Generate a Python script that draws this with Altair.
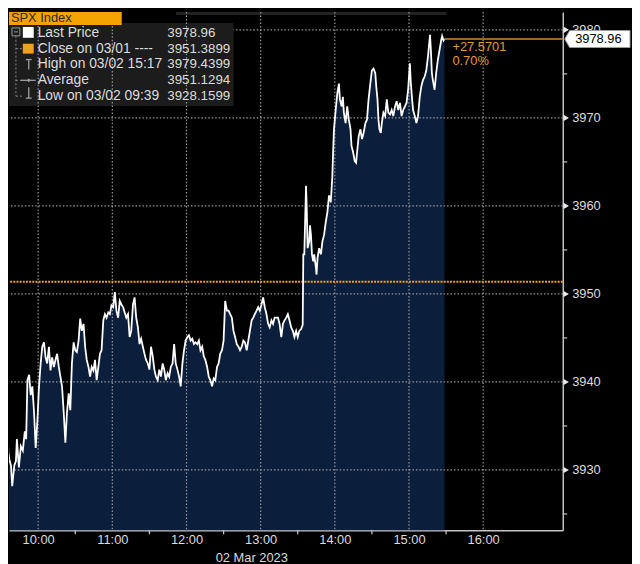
import altair as alt
import pandas as pd

# ---------------- data (minutes after 09:30, index level) ----------------
minutes = [
    0, 1.3, 2.7, 4.8, 5.9, 6.7, 8.0, 9.0, 10.7, 12.0, 12.8, 14.4, 16.0, 17.6, 19.2, 20.3,
    21.3, 22.7, 24.0, 25.3, 26.7, 28.0, 29.3, 30.7, 32.0, 33.3, 34.7, 36.0, 37.3, 38.7,
    40.0, 41.3, 42.7, 44.0, 45.3, 46.7, 48.0, 49.3, 50.7, 52.0, 53.3, 54.7, 56.0, 57.3,
    58.7, 60.0, 61.3, 62.7, 64.0, 65.3, 66.7, 68.0, 69.3, 70.7, 72.0, 73.3, 74.7, 76.0,
    77.3, 78.7, 80.0, 81.3, 82.7, 84.0, 85.3, 86.7, 88.0, 89.3, 90.7, 92.0, 93.3, 94.7,
    96.0, 97.3, 98.7, 100.0, 101.3, 102.7, 104.0, 105.3, 106.7, 108.0, 109.3, 110.7,
    112.0, 113.3, 114.7, 116.0, 117.3, 118.7, 120.0, 121.3, 122.7, 124.0, 125.3, 126.7,
    128.0, 129.3, 130.7, 132.0, 133.3, 134.7, 136.0, 137.3, 138.7, 140.0, 141.3, 142.7,
    144.0, 145.3, 146.7, 148.0, 149.3, 150.7, 152.0, 153.3, 154.7, 156.0, 157.3, 158.7,
    160.0, 161.3, 162.7, 164.0, 165.3, 166.7, 168.0, 169.3, 170.7, 172.0, 173.3, 174.7,
    176.0, 177.3, 178.7, 180.0, 181.3, 182.7, 184.0, 185.3, 186.7, 188.0, 189.3, 190.7,
    192.0, 193.3, 194.7, 196.0, 197.3, 198.7, 200.0, 201.3, 202.7, 204.0, 205.3, 206.7,
    208.0, 209.3, 210.7, 212.0, 213.3, 214.7, 216.0, 217.3, 218.7, 220.0, 221.3, 222.7,
    224.0, 225.3, 226.7, 228.0, 229.3, 230.7, 232.0, 233.3, 234.7, 236.0, 237.3, 238.7,
    240.0, 241.3, 242.7, 244.0, 244.5, 245.3, 246.7, 247.2, 248.0, 249.3, 249.9, 250.7,
    251.5, 252.5, 253.3, 254.7, 255.2, 256.0, 257.3, 258.7, 260.0, 261.3, 262.7, 264.0,
    265.3, 266.7, 268.0, 268.5, 269.3, 270.7, 272.0, 273.3, 274.1, 275.5, 276.5, 277.3,
    278.7, 280.0, 281.3, 282.7, 283.5, 284.8, 286.1, 287.2, 288.0, 289.3, 290.7, 292.0,
    293.3, 294.7, 296.0, 297.3, 298.7, 300.0, 301.3, 302.7, 303.5, 304.5, 305.3, 306.1,
    307.2, 308.0, 309.3, 310.7, 312.0, 313.3, 314.7, 316.0, 317.3, 318.7, 320.0, 321.3,
    322.7, 324.0, 325.3, 326.7, 328.0, 329.3, 330.7, 331.5, 332.5, 333.3, 334.7, 336.0,
    337.3, 338.7, 340.0, 341.3, 342.7, 344.0, 345.3, 347.0, 347.7, 348.5, 349.3, 350.7,
    352.0, 353.3, 354.7, 356.0, 356.8, 357.9, 358.7,
]
prices = [
    3933.0, 3931.2, 3933.8, 3935.4, 3932.0, 3931.2, 3930.5, 3928.16, 3930.5, 3931.0, 3933.5, 3930.3, 3932.7, 3932.2, 3934.4, 3933.5,
    3940.2, 3940.8, 3938.5, 3939.5, 3936.5, 3932.5, 3935.4, 3939.5, 3942.1, 3944.0, 3944.5, 3942.8, 3942.1, 3944.0,
    3941.3, 3942.8, 3941.7, 3942.5, 3943.2, 3941.7, 3940.6, 3939.5, 3936.5, 3933.1, 3936.5, 3938.7, 3936.8, 3942.1,
    3944.5, 3943.6, 3943.4, 3944.7, 3947.2, 3945.8, 3946.6, 3944.0, 3942.5, 3941.7, 3940.6, 3941.7, 3941.3, 3942.5,
    3940.2, 3941.7, 3943.2, 3943.6, 3947.0, 3947.7, 3947.3, 3947.9, 3947.7, 3948.7, 3948.5, 3950.2, 3948.1, 3947.3,
    3949.2, 3948.8, 3948.5, 3947.9, 3947.3, 3947.7, 3945.1, 3945.8, 3948.8, 3949.6, 3947.3, 3946.2,
    3944.3, 3944.9, 3944.0, 3943.2, 3942.5, 3942.1, 3941.4, 3944.0, 3942.9, 3941.4, 3940.6, 3940.2,
    3941.4, 3940.6, 3942.1, 3941.4, 3940.2, 3941.0, 3940.6, 3941.7, 3942.1, 3944.3, 3942.1, 3941.4,
    3940.6, 3939.5, 3942.1, 3943.6, 3944.7, 3945.1, 3945.3, 3944.7, 3944.9, 3944.3, 3944.5, 3944.3,
    3944.7, 3943.6, 3944.0, 3942.9, 3942.5, 3941.7, 3940.6, 3940.2, 3939.5, 3940.4, 3940.2, 3941.7,
    3942.1, 3943.2, 3943.6, 3944.7, 3949.2, 3948.1, 3948.1, 3947.7, 3947.3, 3945.8, 3945.1, 3944.3,
    3944.0, 3943.6, 3944.0, 3944.7, 3944.5, 3943.6, 3944.7, 3945.8, 3947.0, 3947.3, 3947.7, 3948.1,
    3948.5, 3948.1, 3948.8, 3949.6, 3948.5, 3947.7, 3946.6, 3946.2, 3947.0, 3946.6, 3947.3, 3947.3,
    3947.3, 3946.6, 3945.1, 3946.6, 3947.0, 3947.3, 3947.7, 3947.0, 3946.2, 3945.8, 3945.1, 3945.8,
    3945.1, 3945.8, 3946.0, 3946.5, 3954.5, 3954.5, 3962.3, 3960.1, 3955.2, 3956.0, 3957.8, 3956.7,
    3954.5, 3953.7, 3954.5, 3953.0, 3952.2, 3954.1, 3955.2, 3954.5, 3956.0, 3956.7, 3958.2, 3959.3,
    3961.2, 3960.4, 3963.4, 3965.7, 3968.7, 3970.9, 3972.8, 3973.9, 3972.1, 3971.3, 3972.4, 3970.6,
    3969.4, 3971.3, 3969.8, 3968.7, 3966.8, 3966.1, 3965.1, 3964.9, 3966.1, 3967.9, 3968.7, 3967.6,
    3968.3, 3969.4, 3969.8, 3972.1, 3973.9, 3975.4, 3975.6, 3975.1, 3973.6, 3972.1, 3969.8, 3968.7,
    3968.3, 3969.4, 3970.6, 3970.2, 3972.1, 3970.6, 3970.4, 3970.9, 3970.2, 3971.3, 3971.9, 3970.9,
    3971.7, 3970.2, 3970.9, 3971.3, 3971.7, 3973.2, 3976.2, 3973.9, 3972.1, 3970.9, 3970.2, 3969.4,
    3970.2, 3972.4, 3973.6, 3974.3, 3974.7, 3975.4, 3976.9, 3979.44, 3977.7, 3975.1, 3974.3, 3973.2,
    3975.1, 3976.55, 3977.7, 3978.8, 3979.3, 3978.8, 3978.96,
]

prev_close = 3951.3899
last_price = 3978.96
change_text = "+27.5701"
change_pct = "0.70%"
y_ticks = [3925, 3930, 3935, 3940, 3945, 3950, 3955, 3960, 3965, 3970, 3975, 3980]
y_grid = [3930, 3940, 3950, 3960, 3970, 3980]
hour_ticks = [600, 660, 720, 780, 840, 900, 960]          # minutes after midnight
half_ticks = [630, 690, 750, 810, 870, 930]
legend_title = "SPX Index"
legend_labels = ["Last Price", "Close on 03/01 ----", "High on 03/02 15:17", "Average", "Low on 03/02 09:39"]
legend_values = ["3978.96", "3951.3899", "3979.4399", "3951.1294", "3928.1599"]
date_text = "02 Mar 2023"

# ---------------- layout / style ----------------
W, H = 560, 524
FONT = "Liberation Sans, Arial, Helvetica, sans-serif"
TXT = "#dcdcdc"
ORANGE = "#f0a020"
GRID = "#9a9a9a"
AXIS = "#c4c4c4"

df = pd.DataFrame({"t": [570 + m for m in minutes], "price": prices})
xs = alt.Scale(domain=[576.4, 1024.4], nice=False, zero=False)
ys = alt.Scale(domain=[3923.146, 3982.02], nice=False, zero=False)

xaxis = alt.Axis(
    values=hour_ticks, labelExpr="floor(datum.value/60) + ':00'", ticks=False, tickSize=0,
    grid=False, domainColor=AXIS, domainWidth=1.5, labelColor=TXT, labelFontSize=13,
    labelFont=FONT, labelPadding=3, labelFlush=False, title=date_text, titleFont=FONT,
    titleFontSize=13, titleFontWeight="normal", titleColor=TXT, titleX=245, titleY=28,
    titleBaseline="middle", titleAlign="center",
)
yaxis = alt.Axis(
    orient="right", values=y_ticks, format="d",
    labelExpr="datum.value % 10 == 0 ? datum.label : ''", grid=False, tickSize=4,
    tickColor=AXIS, tickWidth=1.2, domainColor=AXIS, domainWidth=1.5, labelColor=TXT,
    labelFontSize=13, labelFont=FONT, labelPadding=5, labelFlush=False,
    labelOverlap=False, title=None,
)
X = alt.X("t:Q", scale=xs, axis=xaxis)
Y = alt.Y("price:Q", scale=ys, axis=yaxis)

one = pd.DataFrame({"k": [0]})


def box(x1, x2, y1, y2, **kw):
    return alt.Chart(one).mark_rect(**kw).encode(
        x=alt.value(x1), x2=alt.value(x2), y=alt.value(y1), y2=alt.value(y2))


def seg(x1, x2, y1, y2, **kw):
    return alt.Chart(one).mark_rule(**kw).encode(
        x=alt.value(x1), x2=alt.value(x2), y=alt.value(y1), y2=alt.value(y2))


def label(x, y, text, **kw):
    base = dict(align="left", baseline="middle", font=FONT, fontSize=13.5, color=TXT)
    base.update(kw)
    return alt.Chart(one).mark_text(text=text, **base).encode(x=alt.value(x), y=alt.value(y))


area = alt.Chart(df).mark_area(color="#0b1e3c", clip=True).encode(x=X, y=Y, y2=alt.value(H))
hgrid = alt.Chart(pd.DataFrame({"price": y_grid})).mark_rule(
    color=GRID, strokeDash=[1.5, 2], strokeWidth=1.2).encode(y=Y)
vgrid = alt.Chart(pd.DataFrame({"t": hour_ticks})).mark_rule(
    color=GRID, strokeDash=[1.5, 2], strokeWidth=1.2).encode(x=X)
half = alt.Chart(pd.DataFrame({"t": half_ticks})).mark_rule(
    color=AXIS, strokeWidth=1.3).encode(x=X, y=alt.value(H), y2=alt.value(H + 4))
close_line = alt.Chart(pd.DataFrame({"price": [prev_close]})).mark_rule(
    color=ORANGE, strokeDash=[2, 1.2], strokeWidth=2).encode(y=Y)
line = alt.Chart(df).mark_line(color="#ffffff", strokeWidth=1.8, clip=True).encode(x=X, y=Y)

last_df = pd.DataFrame({"t": [570 + minutes[-1]], "price": [last_price]})
last_line = alt.Chart(last_df).mark_rule(color="#cc8a2c", strokeWidth=1.6).encode(
    x=X, x2=alt.value(W), y=Y)
chg1 = alt.Chart(last_df).mark_text(
    text=change_text, align="left", baseline="middle", dx=8, dy=8, font=FONT,
    fontSize=13, color="#e39a2d").encode(x=X, y=Y)
chg2 = alt.Chart(last_df).mark_text(
    text=change_pct, align="left", baseline="middle", dx=8, dy=22, font=FONT,
    fontSize=13, color="#e39a2d").encode(x=X, y=Y)

tri = alt.Chart(pd.DataFrame({"price": y_grid})).mark_point(
    shape="triangle-right", filled=True, size=38, color="#ececec", opacity=1).encode(
    x=alt.value(W + 3.5), y=Y)
tag_path = "M-1,0L-0.85,-0.26L1,-0.26L1,0.26L-0.85,0.26Z"
tag = alt.Chart(last_df).mark_point(
    shape=tag_path, filled=True, fill="#ffffff", stroke="#9a9a9a", strokeWidth=1,
    size=4356, opacity=1).encode(x=alt.value(W + 35), y=Y)
tag_text = alt.Chart(last_df).mark_text(
    text=f"{last_price:.2f}", align="center", baseline="middle", font=FONT,
    fontSize=13, color="#000000").encode(x=alt.value(W + 36), y=Y)

# legend panel (pixel-positioned annotation)
panel = box(0, 227, 11, 95, color="#1c1c1c")
strip = box(169, 442, 0, 3, color="#232323")
title_box = box(0, 114, 0, 13, color="#f4a200")
title_txt = label(2, 6.5, legend_title, fontSize=13, color="#2a2a2a")
row_y = [21, 37, 53, 69, 85]
icons = [
    box(3, 11, 16, 24, filled=False, stroke="#9a9a9a", strokeWidth=1),
    seg(5, 9, 20, 20, color="#9a9a9a"),
    seg(7, 7, 24, 85, color="#8a8a8a", strokeDash=[2, 2]),
    seg(7, 13, 37, 37, color="#8a8a8a", strokeDash=[2, 2]),
    seg(7, 13, 69, 69, color="#8a8a8a", strokeDash=[2, 2]),
    seg(7, 13, 85, 85, color="#8a8a8a", strokeDash=[2, 2]),
    box(14, 25, 15, 26, color="#ffffff"),
    box(14, 25, 32, 42, color=ORANGE),
    seg(17, 23, 48, 48, color="#a0a0a0", strokeWidth=1.3),
    seg(20, 20, 48, 58, color="#a0a0a0", strokeWidth=1.3),
    seg(12, 27, 69, 69, color="#a0a0a0", strokeWidth=1.3),
    seg(20, 20, 76, 87, color="#a0a0a0", strokeWidth=1.3),
    seg(17, 23, 87, 87, color="#a0a0a0", strokeWidth=1.3),
    alt.Chart(one).mark_point(shape="diamond", filled=True, size=14, color="#a0a0a0",
                              opacity=1).encode(x=alt.value(20), y=alt.value(69)),
]
texts = [label(29, y, t, fontSize=14) for y, t in zip(row_y, legend_labels)]
texts += [label(160, y, v) for y, v in zip(row_y, legend_values)]

chart = alt.layer(
    area, hgrid, panel, strip, vgrid, half, close_line, line, last_line, chg1, chg2,
    tri, tag, tag_text, title_box, title_txt, *icons, *texts,
).properties(
    width=W, height=H, background="#000000", padding=0,
).configure_view(stroke=None)

chart.save("out.html", embed_options={"renderer": "svg", "actions": False})
